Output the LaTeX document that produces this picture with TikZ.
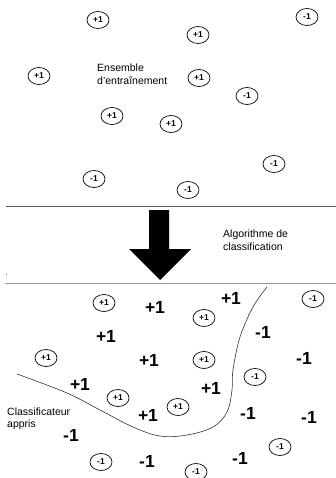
\documentclass[tikz,border=0pt]{standalone}
\usepackage{fontspec}
\setmainfont{Liberation Sans}
\usetikzlibrary{shapes.geometric}
\begin{document}
\begin{tikzpicture}[x=1pt,y=-1pt,
  sample/.style={ellipse,draw,line width=0.7pt,inner sep=0pt,
    minimum width=22pt,minimum height=17pt,
    font=\fontsize{8.5}{9}\selectfont\bfseries},
  label/.style={font=\fontsize{17.5}{18}\selectfont\bfseries,inner sep=0pt},
  caption/.style={font=\fontsize{10.5}{12.5}\selectfont,align=left,anchor=west,inner sep=0pt}]
\useasboundingbox (0,0) rectangle (336,478);
\fill[white] (0,0) rectangle (336,478);

% training set
\node[sample] (t1) at (98,20) {+1};
\node[sample] (t2) at (198,35) {+1};
\node[sample] (t3) at (307,17) {-1};
\node[sample] (t4) at (39,76) {+1};
\node[sample] (t5) at (199,78) {+1};
\node[sample] (t6) at (247,96) {-1};
\node[sample] (t7) at (112,116) {+1};
\node[sample] (t8) at (171,124) {+1};
\node[sample] (t9) at (274,164) {-1};
\node[sample] (t10) at (94,179) {-1};
\node[sample] (t11) at (188,190) {-1};
\node[caption] (train) at (97,74) {Ensemble\\d'entraînement};

% separators
\coordinate (s1a) at (6,206);
\coordinate (s1b) at (336,206);
\coordinate (s2a) at (5,283);
\coordinate (s2b) at (336,283);
\draw[line width=1pt,black!65] (s1a) -- (s1b);
\draw[line width=1pt,black!40] (s2a) -- (s2b);
\fill[black!50] (5.5,273.5) rectangle (6.5,274.5);

% learning step arrow
\fill[black] (149,210) -- (169,210) -- (169,249) -- (191,249) -- (160,280)
  -- (129,249) -- (149,249) -- cycle;
\node[caption] (algo) at (223,240) {Algorithme de\\classification};

% learned classifier
\node[sample] (b1) at (104,303) {+1};
\node[sample] (b2) at (204,318) {+1};
\node[sample] (b3) at (313,299) {-1};
\node[sample] (b4) at (46,358) {+1};
\node[sample] (b5) at (204,360) {+1};
\node[sample] (b6) at (255,377) {-1};
\node[sample] (b7) at (118,398) {+1};
\node[sample] (b8) at (178,407) {+1};
\node[sample] (b9) at (280,447) {-1};
\node[sample] (b10) at (101,462) {-1};
\node[sample] (b11) at (196,472) {-1};

\node[label] (p1) at (155,307) {+1};
\node[label] (p2) at (231,298) {+1};
\node[label] (p3) at (106,336) {+1};
\node[label] (p4) at (149,360) {+1};
\node[label] (p5) at (80,384) {+1};
\node[label] (p6) at (211,388) {+1};
\node[label] (p7) at (148,415) {+1};
\node[label] (m1) at (263,332) {-1};
\node[label] (m2) at (304,358) {-1};
\node[label] (m3) at (248,413) {-1};
\node[label] (m4) at (309,417) {-1};
\node[label] (m5) at (71,435) {-1};
\node[label] (m6) at (147,461) {-1};
\node[label] (m7) at (240,458) {-1};

\draw[line width=0.6pt,black!80] plot[smooth,tension=0.6] coordinates {
  (17,374) (67,393) (100,410) (133,427) (160,436) (187,435) (213,427)
  (227,412) (232,390) (233,370) (240,337) (253,307) (267,287)};
\node[caption] (clf) at (7,419) {Classificateur\\appris};
\end{tikzpicture}
\end{document}
